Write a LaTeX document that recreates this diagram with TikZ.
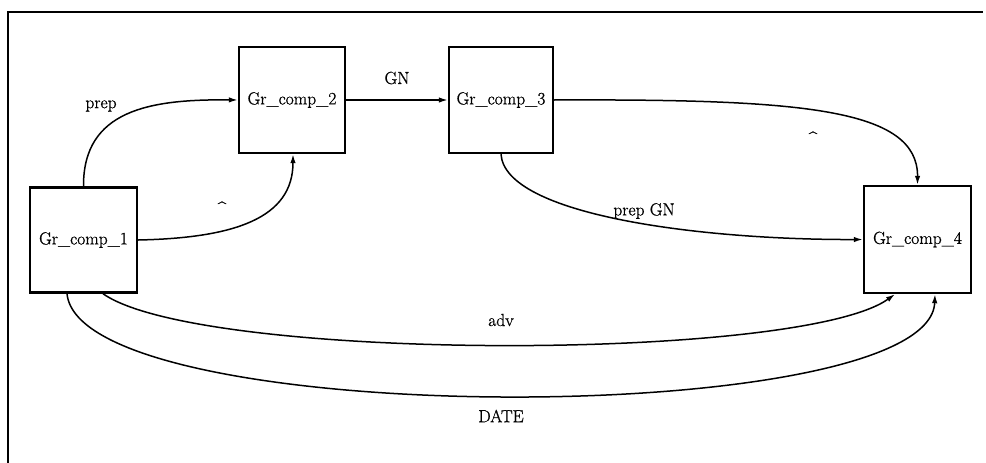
\documentclass[tikz,border=0pt]{standalone}
\usepackage{fontspec}
\newfontfamily\lbfont{Latin Modern Roman}[FakeBold=0.9]
\usetikzlibrary{arrows.meta}
\begin{document}
\begin{tikzpicture}[x=1pt,y=-1pt,
  font=\lbfont\fontsize{17.5}{20}\selectfont,
  gbox/.style={draw,line width=2.4pt,inner sep=0pt,anchor=center},
  conn/.style={line width=1.5pt,-{Latex[length=9pt,width=5.5pt]}},
  lbl/.style={inner sep=0pt},
  caret/.style={inner sep=0pt,font=\lbfont\fontsize{15}{15}\selectfont}]
\useasboundingbox (0,0) rectangle (986,463);
\draw[line width=1.8pt] (8,463) -- (8,12) -- (983,12);
\node[gbox,minimum width=107pt,minimum height=105pt] (b1) at (83.5,240) {Gr\_comp\_1};
\node[gbox,minimum width=106pt,minimum height=106pt] (b2) at (292,100) {Gr\_comp\_2};
\node[gbox,minimum width=104pt,minimum height=106pt] (b3) at (501,100) {Gr\_comp\_3};
\node[gbox,minimum width=107pt,minimum height=107pt] (b4) at (917.5,239.5) {Gr\_comp\_4};
% prep
\draw[conn] (b1.north) .. controls (83,110) and (150,99) .. (b2.west);
\node[lbl] (lprep) at (101,106) {prep};
% ^ 1
\draw[conn] (b1.east) .. controls (235,238) and (293,218) .. ([xshift=1pt]b2.south);
\node[caret] (lc1) at (222,207) {\^{}};
% GN
\draw[conn] (b2.east) -- (b3.west);
\node[lbl] (lgn) at (397,78) {GN};
% ^ 2
\draw[conn] (b3.east) .. controls (800,99) and (918,108) .. (b4.north);
\node[caret] (lc2) at (813,137) {\^{}};
% prep GN
\draw[conn] (b3.south) .. controls (505,215) and (700,240) .. (b4.west);
\node[lbl] (lpgn) at (644,211) {prep GN};
% adv
\draw[conn] ([xshift=19.5pt]b1.south) .. controls (200,362) and (800,362) .. ([xshift=-22.5pt]b4.south);
\node[lbl] (ladv) at (501,320) {adv};
% DATE
\draw[conn] ([xshift=-16.5pt]b1.south) .. controls (80,430) and (930,430) .. ([xshift=17.5pt]b4.south);
\node[lbl] (ldate) at (501,416) {DATE};
\end{tikzpicture}
\end{document}
